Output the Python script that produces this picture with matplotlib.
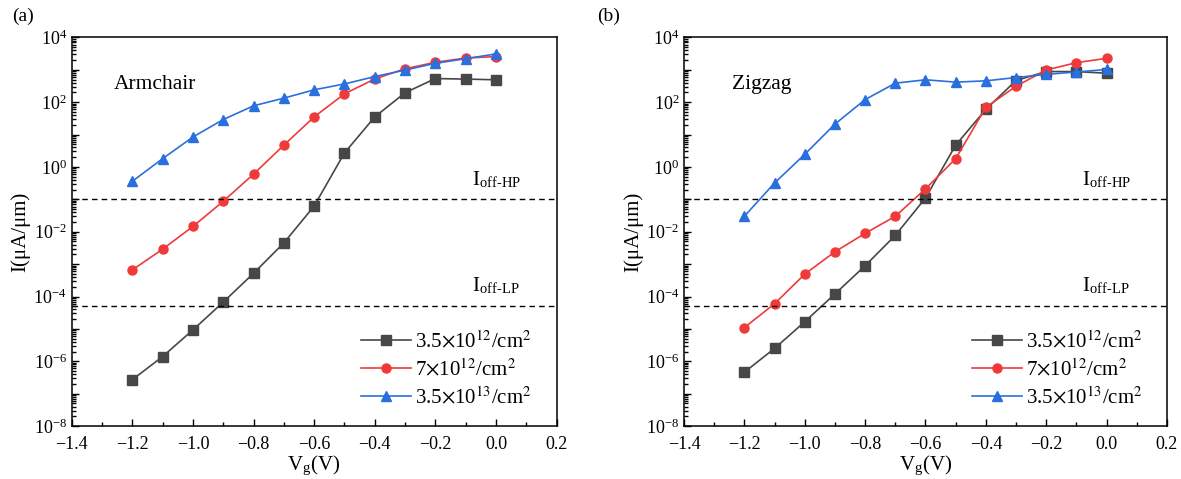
import matplotlib
matplotlib.use("Agg")
import matplotlib.pyplot as plt
import numpy as np
from matplotlib.ticker import LogLocator, FuncFormatter, MultipleLocator, NullFormatter

plt.rcParams['font.family'] = ['Liberation Serif', 'DejaVu Serif']
plt.rcParams['mathtext.fontset'] = 'stix'

vg = [-1.2, -1.1, -1.0, -0.9, -0.8, -0.7, -0.6, -0.5, -0.4, -0.3, -0.2, -0.1, 0.0]

arm_35e12 = [2.7e-7, 1.4e-6, 9.3e-6, 6.7e-5, 5.2e-4, 4.5e-3, 0.062, 2.7, 35, 195, 535, 515, 490]
arm_7e12 = [6.6e-4, 2.9e-3, 0.0145, 0.087, 0.6, 4.7, 35, 180, 520, 1070, 1700, 2300, 2550]
arm_35e13 = [0.36, 1.8, 8.4, 29, 77, 133, 240, 365, 615, 980, 1580, 2200, 3080]

zig_35e12 = [4.6e-7, 2.5e-6, 1.66e-5, 1.2e-4, 8.9e-4, 7.7e-3, 0.11, 4.7, 60, 465, 880, 880, 780]
zig_7e12 = [1.1e-5, 6e-5, 4.9e-4, 2.4e-3, 8.9e-3, 0.030, 0.21, 1.8, 69, 310, 980, 1660, 2250]
zig_35e13 = [0.030, 0.32, 2.45, 21, 120, 385, 490, 415, 455, 575, 720, 855, 1020]

series_labels = [r'3.5$\times$10$^{12}$/cm$^{2}$', r'7$\times$10$^{12}$/cm$^{2}$',
                 r'3.5$\times$10$^{13}$/cm$^{2}$']
ioff_hp = 0.1
ioff_lp = 5e-5
panel_titles = ['Armchair', 'Zigzag']
panel_tags = ['(a)', '(b)']
xticks = [-1.4, -1.2, -1.0, -0.8, -0.6, -0.4, -0.2, 0.0, 0.2]

colors = ['#474747', '#f03a3a', '#2a6fe0']
markers = ['s', 'o', '^']

fig = plt.figure(figsize=(11.81, 4.79), dpi=100)
ax_pos = [[0.0607, 0.1105, 0.4106, 0.8115], [0.5792, 0.1105, 0.4089, 0.8115]]
data = [[arm_35e12, arm_7e12, arm_35e13], [zig_35e12, zig_7e12, zig_35e13]]
title_x = [0.087, 0.099]
tag_x = [0.01, 0.506]


def yfmt(v, pos):
    e = int(round(np.log10(v)))
    if e % 2 != 0:
        return ''
    return r'$\mathregular{10^{%s}}$' % (str(e) if e >= 0 else '\u2212' + str(-e))


for i in range(2):
    ax = fig.add_axes(ax_pos[i])
    for s in range(3):
        ax.plot(vg, data[i][s], color=colors[s], marker=markers[s], markersize=6.5,
                lw=1.2, label=series_labels[s])
    ax.set_yscale('log')
    ax.set_xlim(-1.4, 0.2)
    ax.set_ylim(1e-8, 1e4)
    ax.axhline(ioff_hp, color='black', ls=(0, (4, 3)), lw=1.0)
    ax.axhline(ioff_lp, color='black', ls=(0, (4, 3)), lw=1.0)
    ax.text(-0.08, 0.28, r'I$_{\mathregular{off\text{-}HP}}$', fontsize=15, ha='left', va='baseline')
    ax.text(-0.08, 1.4e-4, r'I$_{\mathregular{off\text{-}LP}}$', fontsize=15, ha='left', va='baseline')
    ax.text(title_x[i], 0.878, panel_titles[i], transform=ax.transAxes, fontsize=15.5,
            ha='left', va='center')
    fig.text(tag_x[i], 0.966, panel_tags[i], fontsize=14, ha='left', va='center')
    ax.set_xticks(xticks)
    ax.xaxis.set_minor_locator(MultipleLocator(0.1))
    ax.yaxis.set_major_locator(LogLocator(base=10, numticks=30))
    ax.yaxis.set_minor_locator(LogLocator(base=10, subs=np.arange(2, 10), numticks=30))
    ax.yaxis.set_minor_formatter(NullFormatter())
    ax.yaxis.set_major_formatter(FuncFormatter(yfmt))
    ax.tick_params(which='both', direction='in', top=False, right=False, labelsize=13, width=1.0)
    ax.tick_params(which='major', length=5)
    ax.tick_params(which='minor', length=3)
    ax.tick_params(axis='x', which='major', pad=7)
    for sp in ax.spines.values():
        sp.set_linewidth(1.1)
    ax.set_xlabel(r'V$_{\mathregular{g}}$(V)', fontsize=15, labelpad=1)
    ax.set_ylabel('I(\u03bcA/\u03bcm)', fontsize=15, labelpad=2)
    ax.legend(loc='upper left', bbox_to_anchor=(0.596, 0.245), frameon=False, fontsize=15,
              handlelength=2.4, handletextpad=0.2, labelspacing=0.3, borderpad=0,
              borderaxespad=0)

fig.savefig('out.png', dpi=100)
